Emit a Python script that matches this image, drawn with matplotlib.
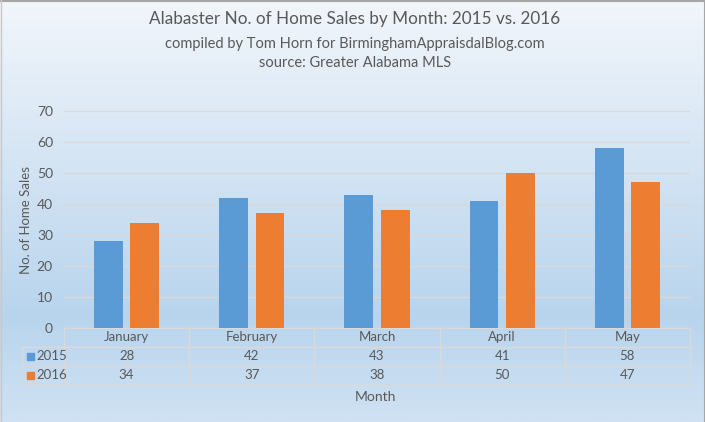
import numpy as np
import matplotlib.pyplot as plt
from matplotlib.colors import LinearSegmentedColormap
from matplotlib.patches import Rectangle
from matplotlib.transforms import blended_transform_factory

months = ["January", "February", "March", "April", "May"]
years = ["2015", "2016"]
sales_2015 = [28, 42, 43, 41, 58]
sales_2016 = [34, 37, 38, 50, 47]
yticks = [0, 10, 20, 30, 40, 50, 60, 70]

BLUE = "#5b9bd5"
ORANGE = "#ed7d31"
TEXT = "#595959"
GRID = "#d9d9d9"

plt.rcParams["font.family"] = ["Lato", "DejaVu Sans"]

W, H = 705, 422
fig = plt.figure(figsize=(W / 100, H / 100), dpi=100)

# background gradient (Excel style)
bg = fig.add_axes([0, 0, 1, 1], zorder=-10)
cmap = LinearSegmentedColormap.from_list(
    "bg", [(0.0, "#f2f6fb"), (0.75, "#b8d4ed"), (1.0, "#d0e2f3")])
grad = np.linspace(0, 1, 256).reshape(-1, 1)
bg.imshow(grad, aspect="auto", cmap=cmap, extent=[0, 1, 0, 1], origin="upper")
bg.set_xlim(0, 1)
bg.set_ylim(0, 1)
bg.axis("off")
bg.plot([0, 1, 1], [0.998, 0.998, 0], color="#a6a6a6", lw=1.5)
bg.plot([0.001, 0.001], [0, 1], color="#c8c8c8", lw=1)

# plot area
left, right, top, bottom = 64, 690, 111, 328
ax = fig.add_axes([left / W, 1 - bottom / H, (right - left) / W, (bottom - top) / H])
ax.patch.set_alpha(0)

x = np.arange(len(months))
bw, off = 0.23, 0.145
ax.bar(x - off, sales_2015, bw, color=BLUE, zorder=3)
ax.bar(x + off, sales_2016, bw, color=ORANGE, zorder=3)

ax.set_xlim(-0.5, len(months) - 0.5)
ax.set_ylim(0, 70)
ax.set_yticks(yticks)
ax.set_yticklabels([str(t) for t in yticks], color=TEXT, fontsize=10)
ax.tick_params(axis="y", length=0, pad=8)
ax.set_xticks([])
ax.yaxis.grid(True, color=GRID, lw=1, zorder=0)
for s in ax.spines.values():
    s.set_visible(False)

ax.set_ylabel("No. of Home Sales", color=TEXT, fontsize=9.5)
ax.yaxis.set_label_coords(-0.051, 0.5)

# data table below the axes
tr = blended_transform_factory(ax.transData, ax.transAxes)
ph = bottom - top
row_px = [328, 346.5, 365.5, 385]
row_y = [-(r - bottom) / ph for r in row_px]
cat_px = (right - left) / len(months)
leg_left = -0.5 - (left - 22) / cat_px

line_kw = dict(color=GRID, lw=1, transform=tr, clip_on=False)
ax.plot([-0.5, 4.5], [row_y[0]] * 2, **line_kw)
for ry in row_y[1:]:
    ax.plot([leg_left, 4.5], [ry, ry], **line_kw)
for xv in np.arange(-0.5, 5.0, 1.0):
    ax.plot([xv, xv], [row_y[0], row_y[3]], **line_kw)
ax.plot([leg_left, leg_left], [row_y[1], row_y[3]], **line_kw)

mid = [(row_y[i] + row_y[i + 1]) / 2 for i in range(3)]
for i, m in enumerate(months):
    ax.text(i, mid[0], m, transform=tr, ha="center", va="center",
            color=TEXT, fontsize=9.5)
    ax.text(i, mid[1], str(sales_2015[i]), transform=tr, ha="center",
            va="center", color=TEXT, fontsize=9.5)
    ax.text(i, mid[2], str(sales_2016[i]), transform=tr, ha="center",
            va="center", color=TEXT, fontsize=9.5)

# legend keys in the table
for j, (yr, col) in enumerate(zip(years, [BLUE, ORANGE])):
    cy = (row_px[j + 1] + row_px[j + 2]) / 2
    fig.patches.append(Rectangle((27 / W, 1 - (cy + 3.5) / H), 7 / W, 7 / H,
                                 transform=fig.transFigure, color=col))
    fig.text(36 / W, 1 - cy / H, yr, ha="left", va="center",
             color=TEXT, fontsize=9.5)

fig.text(375 / W, 1 - 397 / H, "Month", ha="center", va="center",
         color=TEXT, fontsize=10)

# titles
fig.text(355 / W, 1 - 19 / H, "Alabaster No. of Home Sales by Month: 2015 vs. 2016",
         ha="center", va="center", color=TEXT, fontsize=12.3)
fig.text(355 / W, 1 - 44 / H, "compiled by Tom Horn for BirminghamAppraisdalBlog.com",
         ha="center", va="center", color=TEXT, fontsize=10.5)
fig.text(355 / W, 1 - 63 / H, "source: Greater Alabama MLS",
         ha="center", va="center", color=TEXT, fontsize=10.5)

fig.savefig("out.png", dpi=100)
